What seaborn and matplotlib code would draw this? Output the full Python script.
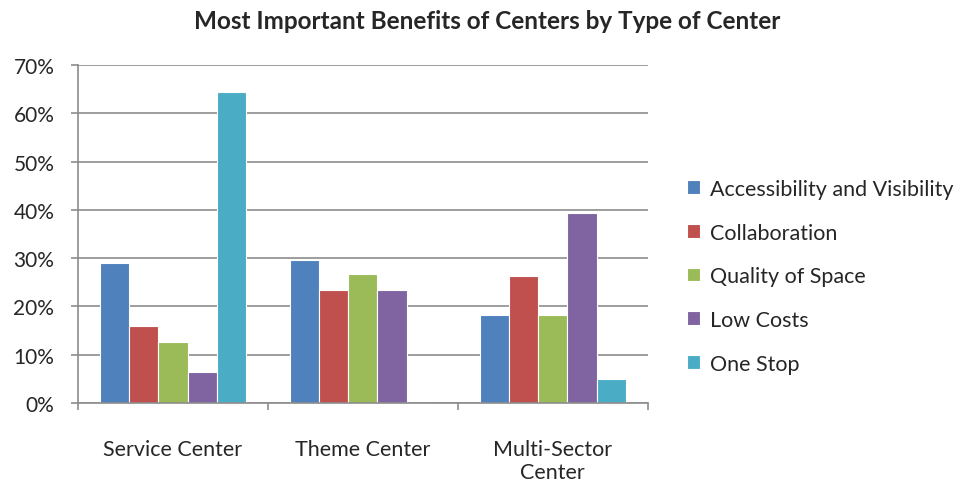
import matplotlib.pyplot as plt
import seaborn as sns
import pandas as pd
from matplotlib.ticker import PercentFormatter, FixedLocator

# Data
centers = ['Service Center', 'Theme Center', 'Multi-Sector\nCenter']
benefits = ['Accessibility and Visibility', 'Collaboration', 'Quality of Space',
            'Low Costs', 'One Stop']
access_vis = [28.9, 29.7, 18.3]
collaboration = [16.0, 23.3, 26.3]
quality_space = [12.6, 26.7, 18.3]
low_costs = [6.5, 23.3, 39.3]
one_stop = [64.4, 0.0, 5.0]

colors = ['#4F81BD', '#C0504D', '#9BBB59', '#8064A2', '#4BACC6']

rows = []
for name, vals in zip(benefits, [access_vis, collaboration, quality_space, low_costs, one_stop]):
    for c, v in zip(centers, vals):
        rows.append({'center': c, 'benefit': name, 'pct': v})
df = pd.DataFrame(rows)

sns.set_style('white')
plt.rcParams['font.family'] = ['Lato', 'DejaVu Sans']

fig = plt.figure(figsize=(9.74, 4.85), dpi=100)
ax = fig.add_axes([0.080, 0.167, 0.585, 0.697])

sns.barplot(data=df, x='center', y='pct', hue='benefit', order=centers,
            hue_order=benefits, palette=colors, width=0.77, ax=ax,
            edgecolor='white', linewidth=0.8, saturation=1)

ax.set_ylim(0, 70)
ax.set_xlim(-0.5, 2.5)
ax.set_yticks(range(0, 71, 10))
ax.yaxis.set_major_formatter(PercentFormatter(decimals=0))
ax.grid(axis='y', color='#8c8c8c', linewidth=1.2)
ax.set_axisbelow(True)
ax.set_xlabel('')
ax.set_ylabel('')

for s in ['top', 'right']:
    ax.spines[s].set_visible(False)
for s in ['left', 'bottom']:
    ax.spines[s].set_color('#8c8c8c')
    ax.spines[s].set_linewidth(1.2)

ax.tick_params(axis='y', length=5, color='#8c8c8c', width=1.2, labelsize=15, pad=12, left=True)
ax.tick_params(axis='x', which='major', length=0, labelsize=15.5, pad=26)
ax.xaxis.set_minor_locator(FixedLocator([-0.5, 0.5, 1.5, 2.5]))
ax.tick_params(axis='x', which='minor', length=5, color='#8c8c8c', width=1.2, bottom=True)
for lbl in ax.get_xticklabels():
    lbl.set_linespacing(1.15)

fig.text(0.5, 0.955, 'Most Important Benefits of Centers by Type of Center',
         fontsize=17.5, fontweight='bold', ha='center', va='center')

handles, labels = ax.get_legend_handles_labels()
ax.legend(handles, labels, loc='center left', bbox_to_anchor=(1.035, 0.375),
          frameon=False, fontsize=15.5, handlelength=0.6, handleheight=0.6,
          handletextpad=0.45, labelspacing=1.1)

fig.savefig('out.png', dpi=100)
